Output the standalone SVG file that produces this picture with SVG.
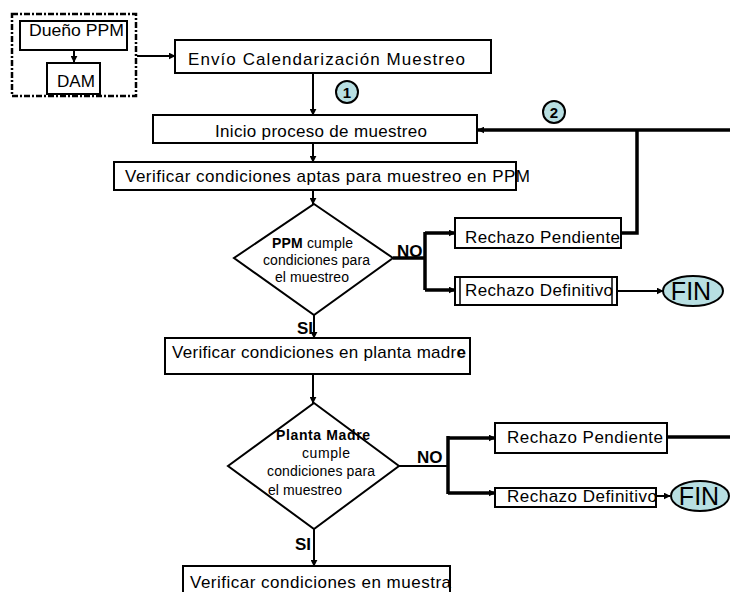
<svg xmlns="http://www.w3.org/2000/svg" width="730" height="592" viewBox="0 0 730 592">
<defs>
<marker id="ahs" viewBox="0 0 10 10" refX="9" refY="5" markerWidth="7" markerHeight="7" markerUnits="userSpaceOnUse" orient="auto">
<path d="M0,0 L10,5 L0,10 z" fill="#000"/>
</marker>
</defs>
<style>
.box{fill:#fff;stroke:#000;stroke-width:2}
.t{font-family:"Liberation Sans",Arial,sans-serif;font-size:17px;fill:#000}
.s{font-family:"Liberation Sans",Arial,sans-serif;font-size:14px;fill:#000}
.b{font-weight:bold}
.c{fill:none;stroke:#000;stroke-width:2}
.k{fill:none;stroke:#000;stroke-width:3.5}
.term{fill:#b8dfe2;stroke:#000;stroke-width:2}
.fin{font-family:"Liberation Sans",Arial,sans-serif;font-size:25px;fill:#000}
</style>
<rect width="730" height="592" fill="#fff"/>

<g id="connectors">
<line class="c" x1="74" y1="50" x2="74" y2="62" marker-end="url(#ahs)"/>
<line class="c" x1="137" y1="56" x2="175" y2="56" marker-end="url(#ahs)"/>
<line class="c" x1="313" y1="73" x2="313" y2="115" marker-end="url(#ahs)"/>
<line class="k" x1="730" y1="130" x2="478" y2="130" marker-end="url(#ahs)"/>
<polyline class="k" points="621,233 637,233 637,130"/>
<line class="c" x1="313" y1="143" x2="313" y2="162" marker-end="url(#ahs)"/>
<line class="c" x1="313" y1="190" x2="313" y2="204" marker-end="url(#ahs)"/>
<polyline class="k" points="393,258 425,258"/>
<polyline class="k" points="425,232 425,290"/>
<line class="k" x1="425" y1="233" x2="455" y2="233" marker-end="url(#ahs)"/>
<line class="k" x1="425" y1="290" x2="455" y2="290" marker-end="url(#ahs)"/>
<line class="c" x1="617" y1="291" x2="663" y2="291" marker-end="url(#ahs)"/>
<line class="c" x1="314" y1="315" x2="314" y2="338" marker-end="url(#ahs)"/>
<line class="c" x1="313" y1="375" x2="313" y2="403" marker-end="url(#ahs)"/>
<line class="c" x1="399" y1="466" x2="448" y2="466"/>
<line class="k" x1="448" y1="436" x2="448" y2="494"/>
<line class="k" x1="448" y1="438" x2="495" y2="438" marker-end="url(#ahs)"/>
<line class="k" x1="448" y1="493" x2="495" y2="493" marker-end="url(#ahs)"/>
<line class="k" x1="667" y1="437" x2="730" y2="437"/>
<line class="c" x1="656" y1="496" x2="670" y2="496" marker-end="url(#ahs)"/>
<line class="c" x1="314" y1="529" x2="314" y2="566" marker-end="url(#ahs)"/>
</g>

<g id="grupo">
<rect x="12" y="14" width="124" height="82" fill="none" stroke="#000" stroke-width="2.5" stroke-dasharray="6,2,2,2"/>
</g>
<g id="dueno">
<rect class="box" x="20" y="21" width="107" height="29"/>
<text class="t" x="29" y="36" textLength="95" lengthAdjust="spacingAndGlyphs" style="font-size:16px">Dueño PPM</text>
</g>
<g id="dam">
<rect class="box" x="47" y="63" width="53" height="31"/>
<text class="t" x="57" y="87" textLength="38" lengthAdjust="spacingAndGlyphs" style="font-size:16px">DAM</text>
</g>

<g id="envio">
<rect class="box" x="175" y="40" width="316" height="33"/>
<text class="t" x="188" y="65" textLength="277" lengthAdjust="spacing">Envío Calendarización Muestreo</text>
</g>

<g id="c1">
<circle class="term" cx="347" cy="92" r="11"/>
<text class="s b" x="347" y="97.5" text-anchor="middle" style="font-size:15px">1</text>
</g>
<g id="c2">
<circle class="term" cx="554" cy="112" r="11"/>
<text class="s b" x="554" y="117.5" text-anchor="middle" style="font-size:15px">2</text>
</g>

<g id="inicio">
<rect class="box" x="153" y="115" width="324" height="28"/>
<text class="t" x="215" y="137" textLength="212" lengthAdjust="spacing">Inicio  proceso de  muestreo</text>
</g>

<g id="verificar1">
<rect class="box" x="114" y="162" width="402" height="28"/>
<text class="t" x="125" y="182" textLength="405" lengthAdjust="spacing">Verificar condiciones aptas para muestreo en PPM</text>
</g>

<g id="decision1">
<polygon class="box" points="314,204 393,258 314,315 234,258"/>
<text class="s" x="272" y="248" textLength="81" lengthAdjust="spacing"><tspan class="b">PPM</tspan> cumple</text>
<text class="s" x="263" y="265" textLength="107" lengthAdjust="spacing">condiciones para</text>
<text class="s" x="275" y="282" textLength="74" lengthAdjust="spacing">el muestreo</text>
</g>
<text class="t b" x="397" y="257">NO</text>

<g id="pendiente1">
<rect class="box" x="455" y="218" width="166" height="30"/>
<text class="t" x="465" y="243" textLength="155" lengthAdjust="spacing">Rechazo Pendiente</text>
</g>
<g id="definitivo1">
<rect class="box" x="455" y="277" width="162" height="28"/>
<line x1="460" y1="277" x2="460" y2="305" stroke="#000" stroke-width="1.5"/>
<line x1="612" y1="277" x2="612" y2="305" stroke="#000" stroke-width="1.5"/>
<text class="t" x="465" y="296" textLength="148" lengthAdjust="spacing">Rechazo Definitivo</text>
</g>
<g id="fin1">
<ellipse class="term" cx="693" cy="291" rx="30" ry="15"/>
<text class="fin" x="691" y="300" text-anchor="middle">FIN</text>
</g>

<text class="t b" x="297" y="334">SI</text>

<g id="verificar2">
<rect class="box" x="165" y="338" width="305" height="36"/>
<text class="t" x="172" y="358" textLength="294" lengthAdjust="spacing">Verificar condiciones en planta madr<tspan class="b">e</tspan></text>
</g>

<g id="decision2">
<polygon class="box" points="314,403 399,466 314,529 228,466"/>
<text class="s b" x="276" y="440" textLength="94" lengthAdjust="spacing">Planta Madre</text>
<text class="s" x="302" y="458" textLength="48" lengthAdjust="spacing">cumple</text>
<text class="s" x="267" y="476" textLength="108" lengthAdjust="spacing">condiciones para</text>
<text class="s" x="268" y="495" textLength="74" lengthAdjust="spacing">el muestreo</text>
</g>
<text class="t b" x="417" y="463">NO</text>

<g id="pendiente2">
<rect class="box" x="495" y="423" width="172" height="30"/>
<text class="t" x="507" y="443" textLength="156" lengthAdjust="spacing">Rechazo Pendiente</text>
</g>
<g id="definitivo2">
<rect class="box" x="495" y="488" width="161" height="19"/>
<text class="t" x="507" y="502" textLength="150" lengthAdjust="spacing">Rechazo Definitivo</text>
</g>
<g id="fin2">
<ellipse class="term" cx="700" cy="496" rx="29" ry="15"/>
<text class="fin" x="699" y="505" text-anchor="middle">FIN</text>
</g>

<text class="t b" x="295" y="550">SI</text>

<g id="verificar3">
<rect class="box" x="183" y="566" width="267" height="40"/>
<text class="t" x="190" y="588" textLength="261" lengthAdjust="spacing">Verificar condiciones en muestra</text>
</g>
</svg>
